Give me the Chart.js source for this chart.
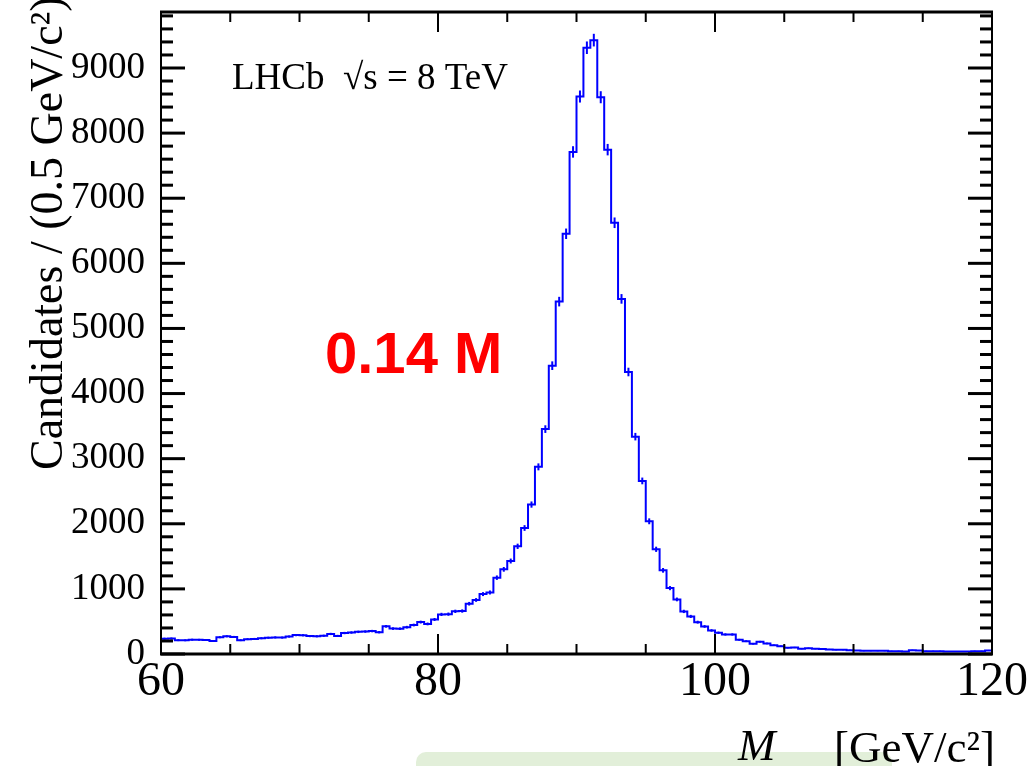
<!DOCTYPE html>
<html>
<head>
<meta charset="utf-8">
<script src="https://cdn.jsdelivr.net/npm/chart.js@4"></script>
<style>
  html, body { margin: 0; padding: 0; background: #fff; }
  canvas { display: block; }
</style>
</head>
<body>
<canvas id="massChart" width="1034" height="766"></canvas>
<script>
// dimuon invariant mass, 0.5 GeV bins from 60 to 120 GeV
const massMin = 60;
const massMax = 120;
const binWidth = 0.5;

const candidates = [
  235, 238, 212, 210, 220, 218, 215, 200, 258, 272,
  262, 212, 228, 232, 242, 250, 255, 252, 268, 290,
  288, 275, 272, 280, 308, 278, 322, 330, 340, 345,
  352, 335, 425, 390, 388, 412, 445, 490, 462, 530,
  608, 612, 655, 660, 772, 830, 920, 945, 1172, 1300,
  1428, 1654, 1935, 2295, 2874, 3454, 4428, 5412, 6454, 7711,
  8562, 9311, 9428, 8551, 7746, 6623, 5454, 4331, 3338, 2658,
  2038, 1608, 1285, 1012, 838, 654, 577, 489, 423, 362,
  326, 300, 300, 218, 197, 157, 188, 162, 135, 120,
  95, 100, 80, 90, 80, 75, 70, 64, 64, 59,
  54, 49, 49, 49, 49, 44, 44, 38, 59, 52,
  44, 44, 44, 38, 38, 38, 38, 44, 44, 55
];

const yMax = 9860;
const xLabels = [60, 80, 100, 120];
const xMinorTicks = [65, 70, 75, 85, 90, 95, 105, 110, 115];
const yLabels = [0, 1000, 2000, 3000, 4000, 5000, 6000, 7000, 8000, 9000];

const serif = 'Liberation Serif';
const histBlue = '#0000ff';

// step outline: start at zero on the left edge, one point per bin low edge, close on the right edge
const outline = [{ x: massMin, y: 0 }];
candidates.forEach((n, i) => outline.push({ x: massMin + i * binWidth, y: n }));
outline.push({ x: massMax, y: candidates[candidates.length - 1] });
outline.push({ x: massMax, y: 0 });

function line(ctx, x1, y1, x2, y2) {
  ctx.beginPath();
  ctx.moveTo(x1, y1);
  ctx.lineTo(x2, y2);
  ctx.stroke();
}

// ROOT-like frame: error bars, closed box and inward ticks on all four sides
const rootFrame = {
  id: 'rootFrame',
  beforeDraw(chart) {
    const ctx = chart.ctx;
    ctx.save();
    ctx.fillStyle = '#fff';
    ctx.fillRect(0, 0, chart.width, chart.height);
    ctx.fillStyle = '#e2efd9';
    ctx.beginPath();
    ctx.roundRect(416, 752, 476, 40, 10);
    ctx.fill();
    ctx.restore();
  },
  afterDatasetsDraw(chart) {
    const ctx = chart.ctx;
    const { left, right, top, bottom } = chart.chartArea;
    const xs = chart.scales.x;
    const ys = chart.scales.y;
    ctx.save();

    // sqrt(N) error bars at bin centres
    ctx.strokeStyle = histBlue;
    ctx.lineWidth = 2;
    candidates.forEach((n, i) => {
      const cx = xs.getPixelForValue(massMin + (i + 0.5) * binWidth);
      const err = Math.sqrt(n);
      line(ctx, cx, ys.getPixelForValue(n - err), cx, ys.getPixelForValue(n + err));
    });

    ctx.strokeStyle = '#000';
    ctx.lineWidth = 3;
    line(ctx, left - 1, top, right + 1, top);
    line(ctx, left - 1, bottom, right + 1, bottom);
    ctx.lineWidth = 2;
    line(ctx, left, top, left, bottom);
    line(ctx, right, top, right, bottom);

    // x ticks, bottom and top
    ctx.lineWidth = 2;
    xLabels.forEach(v => {
      const px = xs.getPixelForValue(v);
      line(ctx, px, bottom, px, bottom - 20);
      line(ctx, px, top, px, top + 20);
    });
    xMinorTicks.forEach(v => {
      const px = xs.getPixelForValue(v);
      line(ctx, px, bottom, px, bottom - 10);
      line(ctx, px, top, px, top + 10);
    });

    // y ticks, left and right
    ctx.lineWidth = 3;
    for (let v = 0; v <= yMax; v += 200) {
      const py = ys.getPixelForValue(v);
      const len = v % 1000 === 0 ? 24 : 12;
      line(ctx, left, py, left + len, py);
      line(ctx, right, py, right - len, py);
    }
    ctx.restore();
  },
  afterDraw(chart) {
    const ctx = chart.ctx;
    ctx.save();
    ctx.fillStyle = '#000';
    ctx.textBaseline = 'alphabetic';

    ctx.font = `37px "${serif}"`;
    ctx.textAlign = 'left';
    ctx.fillText('LHCb  √s = 8 TeV', 232, 89);

    ctx.fillStyle = '#ff0000';
    ctx.font = 'bold 58px "Liberation Sans"';
    ctx.fillText('0.14 M', 325, 373);

    // y axis title
    ctx.fillStyle = '#000';
    ctx.save();
    ctx.translate(62, 470);
    ctx.rotate(-Math.PI / 2);
    ctx.font = `46px "${serif}"`;
    ctx.fillText('Candidates / (0.5 GeV/c²)', 0, 0);
    ctx.restore();

    // x axis title with subscript
    ctx.font = `italic 45px "${serif}"`;
    ctx.fillText('M', 738, 760);
    ctx.font = `italic 30px "${serif}"`;
    ctx.fillText('μμ', 776, 784);
    ctx.font = `45px "${serif}"`;
    ctx.textAlign = 'right';
    ctx.fillText('[GeV/c²]', 995, 762);
    ctx.restore();
  }
};

const ctx = document.getElementById('massChart').getContext('2d');

new Chart(ctx, {
  type: 'line',
  data: {
    datasets: [{
      data: outline,
      stepped: 'before',
      borderColor: histBlue,
      borderWidth: 2,
      pointRadius: 0,
      fill: false
    }]
  },
  options: {
    responsive: false,
    animation: false,
    layout: { padding: { top: 12, right: 42, bottom: 0, left: 0 }, autoPadding: false },
    plugins: { legend: { display: false }, tooltip: { enabled: false } },
    scales: {
      x: {
        type: 'linear',
        min: massMin,
        max: massMax,
        grid: { display: false, drawTicks: false },
        border: { display: false },
        afterBuildTicks: s => { s.ticks = xLabels.map(v => ({ value: v })); },
        afterFit: s => { s.height = 112; s.paddingLeft = 0; s.paddingRight = 0; },
        ticks: {
          autoSkip: false,
          maxRotation: 0,
          padding: 0,
          color: '#000',
          font: { family: serif, size: 48 },
          callback: v => String(v)
        }
      },
      y: {
        min: 0,
        max: yMax,
        grid: { display: false, drawTicks: false },
        border: { display: false },
        afterBuildTicks: s => { s.ticks = yLabels.map(v => ({ value: v })); },
        afterFit: s => { s.width = 161; s.paddingTop = 0; s.paddingBottom = 0; },
        ticks: {
          padding: 16,
          color: '#000',
          font: { family: serif, size: 37 },
          callback: v => String(v)
        }
      }
    }
  },
  plugins: [rootFrame]
});
</script>
</body>
</html>
